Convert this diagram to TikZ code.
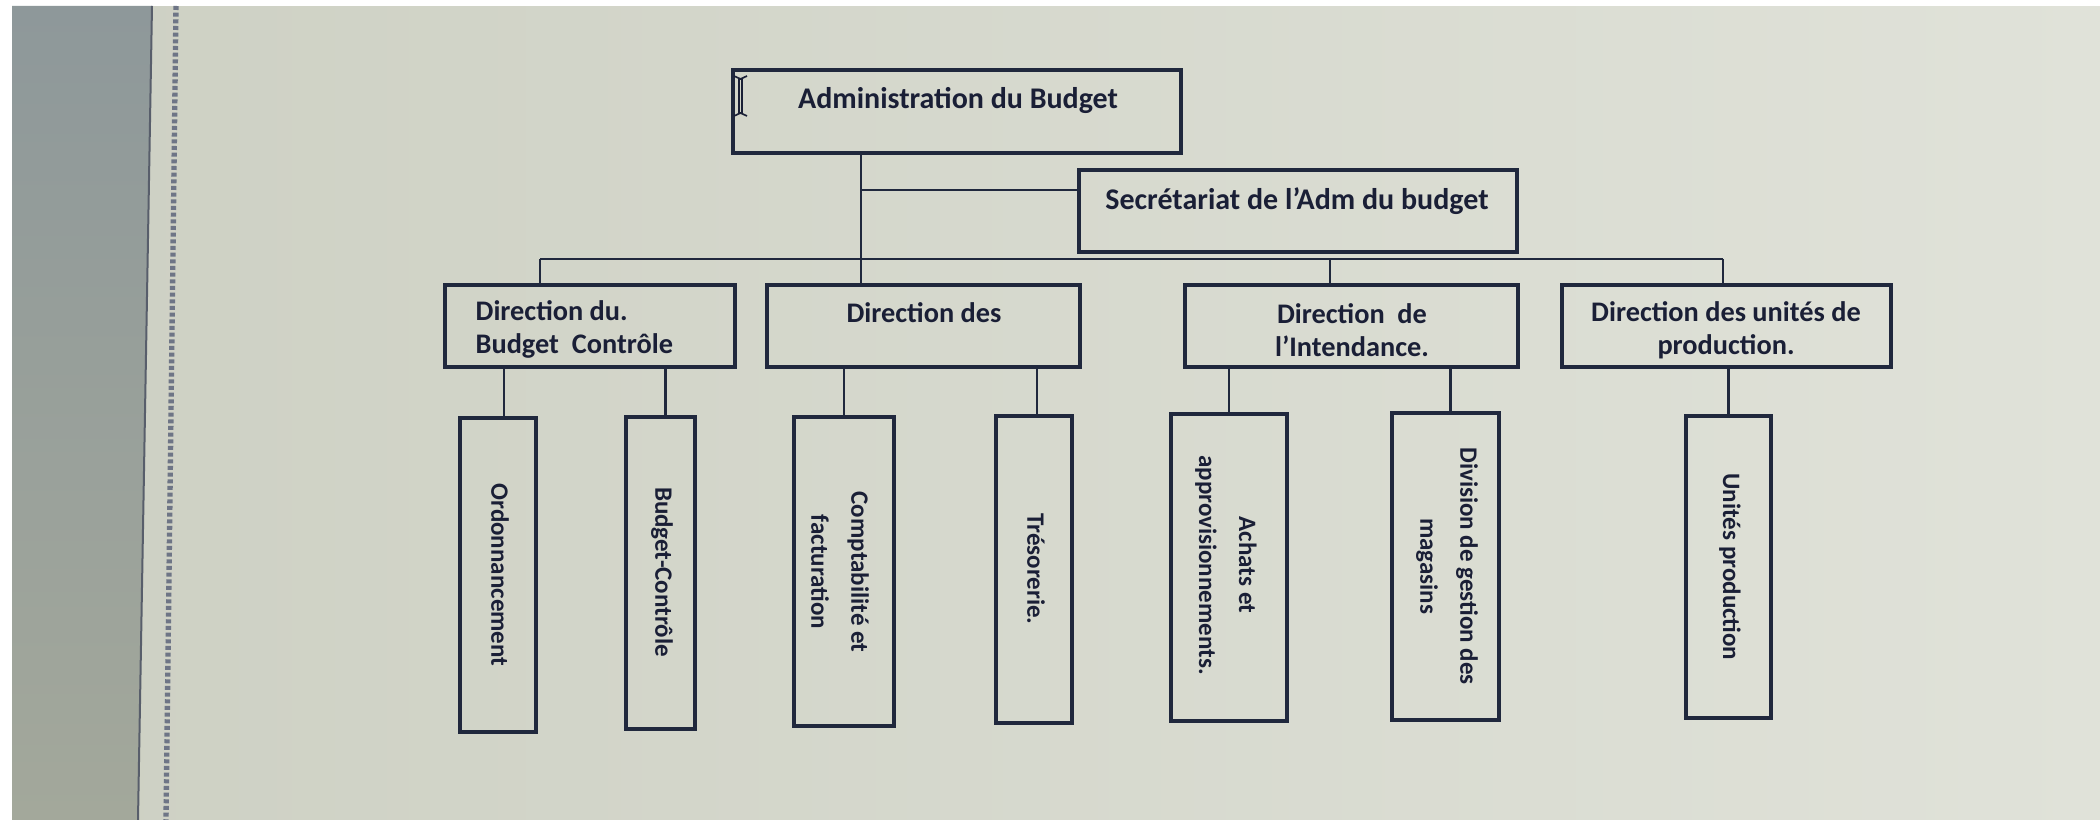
\documentclass[tikz,border=0pt]{standalone}
\usepackage{fontspec}
\setmainfont{Carlito}
\definecolor{ink}{HTML}{1A1F36}
\definecolor{linec}{HTML}{20283D}
\definecolor{bgl}{HTML}{CDD0C3}
\definecolor{bgr}{HTML}{E0E2D9}
\definecolor{panelt}{HTML}{8E989A}
\definecolor{panelb}{HTML}{A3A89B}
\definecolor{rulerc}{HTML}{6E7586}
\tikzset{
  orgbox/.style 2 args={draw=linec, line width=1.05pt, minimum width=#1*0.3pt, minimum height=#2*0.3pt, inner sep=0pt},
  conn/.style={draw=linec, line width=0.85pt},
  htext/.style={text=ink, inner sep=0pt, font=\bfseries\fontsize{8.5}{9.9}\selectfont},
  toptext/.style={text=ink, inner sep=0pt, font=\bfseries\fontsize{9}{11}\selectfont},
  vtext/.style={text=ink, inner sep=0pt, rotate=-90, align=center, font=\bfseries\fontsize{7.5}{12}\selectfont}
}
\begin{document}
\begin{tikzpicture}[x=0.3pt,y=-0.3pt]
\useasboundingbox (0,0) rectangle (2100,820);
% screen background
\shade[left color=bgl, right color=bgr] (0,0) rectangle (2100,820);
\fill[white] (0,0) rectangle (12,820);
\fill[white] (0,0) rectangle (2100,6);
\shade[top color=panelt, bottom color=panelb] (12,6) -- (152,6) -- (138,820) -- (12,820) -- cycle;
\draw[color=rulerc!80!black, line width=0.6pt] (152,6) -- (138,820);
\draw[color=rulerc, line width=1.6pt, dash pattern=on 1.2pt off 0.8pt] (176,6) -- (166,820);

% boxes
\node[orgbox={448}{83}] (admin) at (957,111.5) {};
\node[orgbox={438}{82}] (sec) at (1298,211) {};
\node[orgbox={290}{82}] (dirdu) at (590,326) {};
\node[orgbox={313}{82}] (dirdes) at (923.5,326) {};
\node[orgbox={333}{82}] (dirint) at (1351.5,326) {};
\node[orgbox={329}{82}] (dirunit) at (1726.5,326) {};
\node[orgbox={76}{314}] (ordo) at (498,575) {};
\node[orgbox={69}{312}] (bc) at (660.5,573) {};
\node[orgbox={100}{309}] (compta) at (844,571.5) {};
\node[orgbox={76}{307}] (treso) at (1034,569.5) {};
\node[orgbox={116}{307}] (achats) at (1229,567.5) {};
\node[orgbox={107}{307}] (division) at (1445.5,566.5) {};
\node[orgbox={85}{302}] (unitprod) at (1728.5,567) {};

% texts
\node[toptext] (tadmin) at (958,101) {Administration du Budget};
\node[toptext] (tsec) at (1297,201) {Secrétariat de l’Adm du budget};
\node[htext, anchor=west, align=left] (tdirdu) at (475,329) {Direction du.\\Budget\ \ Contrôle};
\node[htext] (tdirdes) at (924,313) {Direction des};
\node[htext, align=center] (tdirint) at (1352,330) {Direction\ \ de\\l’Intendance.};
\node[htext, align=center] (tdirunit) at (1726,330) {Direction\ des unités de\\production.};
\node[vtext] (tordo) at (500,575) {Ordonnancement};
\node[vtext] (tbc) at (662,572) {Budget-Contrôle};
\node[vtext] (tcompta) at (840,572) {Comptabilité et\\facturation};
\node[vtext] (ttreso) at (1036,569) {Trésorerie.};
\node[vtext] (tachats) at (1226,565) {Achats et\\approvisionnements.};
\node[vtext] (tdivision) at (1447,566) {Division de gestion des\\magasins};
\node[vtext] (tunitprod) at (1730,567) {Unités production};

% text cursor
\draw[color=ink, line width=0.5pt] (739,78) -- (739,114) (742,78) -- (742,114);
\draw[color=ink, line width=0.5pt] (734,76) -- (740.5,79) -- (747,76) (734,116) -- (740.5,113) -- (747,116);

% connectors
\coordinate (trunk) at (861,153);
\coordinate (bl) at (540,259);
\coordinate (bm) at (1330,259);
\coordinate (br) at (1723,259);
\draw[conn] (trunk) -- (trunk |- dirdes.north);
\draw[conn] (trunk |- 0,190) -- (trunk |- 0,190 -| sec.west);
\draw[conn] (bl) -- (br);
\draw[conn] (bl) -- (bl |- dirdu.north);
\draw[conn] (bm) -- (bm |- dirint.north);
\draw[conn] (br) -- (br |- dirunit.north);
\draw[conn] ([xshift=6*0.3pt]ordo.north) -- ([xshift=6*0.3pt]ordo.north |- dirdu.south);
\draw[conn] ([xshift=5*0.3pt]bc.north) -- ([xshift=5*0.3pt]bc.north |- dirdu.south);
\draw[conn] (compta.north) -- (compta.north |- dirdes.south);
\draw[conn] ([xshift=3*0.3pt]treso.north) -- ([xshift=3*0.3pt]treso.north |- dirdes.south);
\draw[conn] (achats.north) -- (achats.north |- dirint.south);
\draw[conn] ([xshift=5*0.3pt]division.north) -- ([xshift=5*0.3pt]division.north |- dirint.south);
\draw[conn] (unitprod.north) -- (unitprod.north |- dirunit.south);
\end{tikzpicture}
\end{document}
